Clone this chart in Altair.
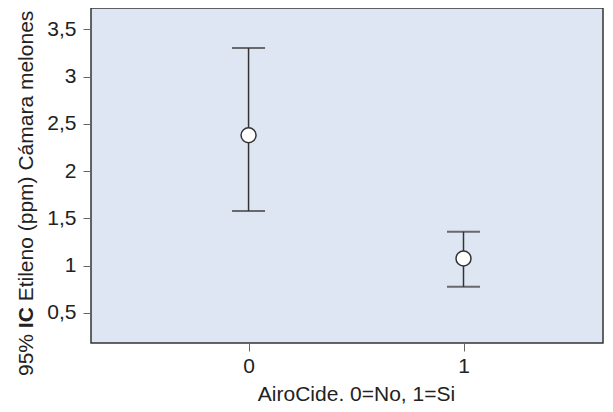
import altair as alt
import pandas as pd

groups = [0, 1]
means = [2.378, 1.074]
lower = [1.576, 0.774]
upper = [3.302, 1.358]
y_ticks = [0.5, 1, 1.5, 2, 2.5, 3, 3.5]
x_ticks = [0, 1]
x_title = "AiroCide. 0=No, 1=Si"
y_title_parts = ["95%", "IC", "Etileno (ppm) Cámara melones"]
y_title_weights = ["normal", "bold", "normal"]

FONT = "Liberation Sans"
FS = 21
INK = "#333333"

df = pd.DataFrame({"g": groups, "mean": means, "lo": lower, "hi": upper})

xs = alt.Scale(domain=[-0.733, 1.649], nice=False, zero=False)
ys = alt.Scale(domain=[0.18, 3.725], nice=False, zero=False)

x_axis = alt.Axis(values=x_ticks, title=x_title, format="d", tickSize=8,
                  labelPadding=4, titleX=265, titleY=57, titleAlign="center",
                  titleBaseline="alphabetic")
y_axis = alt.Axis(values=y_ticks, title=None, tickSize=8, labelPadding=7,
                  labelExpr="replace(toString(datum.value), '.', ',')")

base = alt.Chart(df)

rules = base.mark_rule(color=INK, strokeWidth=1.5).encode(
    x=alt.X("g:Q", scale=xs, axis=x_axis),
    y=alt.Y("lo:Q", scale=ys, axis=y_axis),
    y2="hi:Q",
)
caps_hi = base.mark_tick(orient="horizontal", size=33, thickness=2, color=INK).encode(
    x=alt.X("g:Q", scale=xs), y=alt.Y("hi:Q", scale=ys))
caps_lo = base.mark_tick(orient="horizontal", size=33, thickness=2, color=INK).encode(
    x=alt.X("g:Q", scale=xs), y=alt.Y("lo:Q", scale=ys))
pts = base.mark_point(shape="circle", filled=True, fill="white", stroke=INK,
                      strokeWidth=1.5, size=225, opacity=1).encode(
    x=alt.X("g:Q", scale=xs), y=alt.Y("mean:Q", scale=ys))

# rotated y title with bold "IC" (segment advance widths in em, Arial metrics, incl. following space)
seg_adv_em = [2.001 + 0.278, 1.000 + 0.278]
anchor = 368
layers = [rules, caps_hi, caps_lo, pts]
pos = anchor
for i, (part, w) in enumerate(zip(y_title_parts, y_title_weights)):
    t = alt.Chart(pd.DataFrame({"t": [part]})).mark_text(
        angle=270, align="left", baseline="alphabetic", fontSize=FS,
        fontWeight=w, font=FONT, color="#222222").encode(
        text="t:N", x=alt.value(-58), y=alt.value(pos))
    layers.append(t)
    if i < len(seg_adv_em):
        pos -= seg_adv_em[i] * FS

chart = alt.layer(*layers).properties(
    width=512, height=335,
    autosize=alt.AutoSizeParams(type="none"),
    padding={"left": 83, "right": 2, "top": 0, "bottom": 61},
).configure_view(
    fill="#DFE6F3", stroke=INK, strokeWidth=1.5
).configure_axis(
    domain=False, grid=False, tickColor="#666666", tickWidth=1,
    labelFont=FONT, labelFontSize=FS, labelColor="#222222",
    titleFont=FONT, titleFontSize=FS, titleColor="#222222", titleFontWeight="normal",
)

chart.save("out.html", embed_options={"renderer": "svg", "actions": False})
